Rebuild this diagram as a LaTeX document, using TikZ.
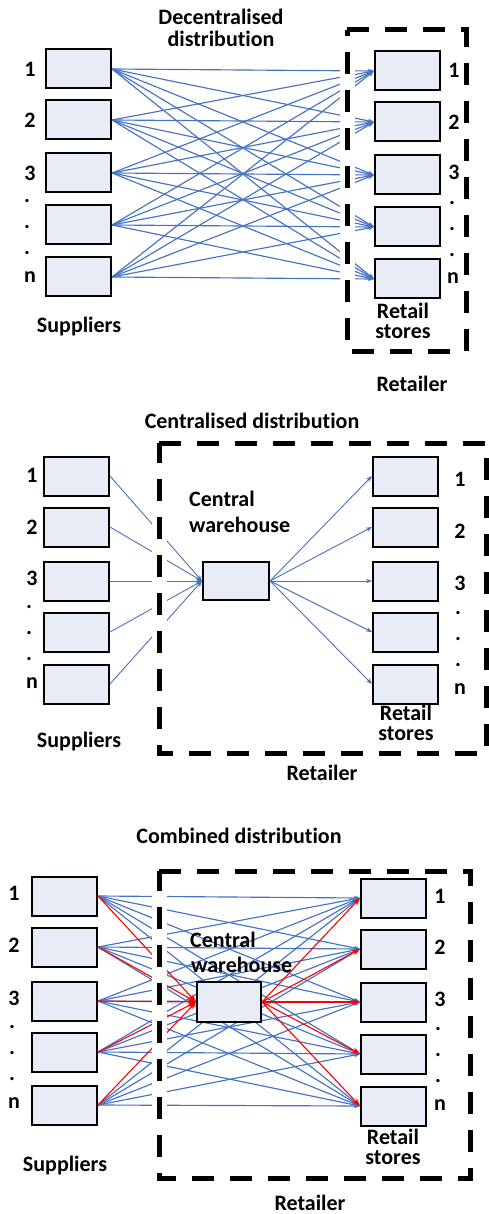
\documentclass[tikz,border=0pt]{standalone}
\usepackage{fontspec}
\setmainfont[Ligatures={NoCommon}]{Carlito}
\usetikzlibrary{arrows.meta}
\definecolor{boxfill}{HTML}{E7ECF6}
\definecolor{lblue}{HTML}{4472C4}
\begin{document}
\begin{tikzpicture}[x=1pt,y=-1pt,
 box/.style={draw=black,line width=2pt,fill=boxfill,minimum width=65pt,minimum height=39pt,inner sep=0pt},
 lbl/.style={font=\fontsize{22}{24}\selectfont\bfseries,inner sep=0pt,text depth=0pt},
 conn/.style={draw=lblue,line width=1.15pt,-{Stealth[length=6pt,width=4.5pt]}},
 thinconn/.style={conn,line width=0.9pt},
 redconn/.style={draw=red,line width=1.1pt,-{Stealth[length=8pt,width=6pt]}},
 retbox/.style={draw=black,line width=5pt,dash pattern=on 22pt off 16pt},
 band/.style={draw=white,line width=15pt}]
\useasboundingbox (0,0) rectangle (489,1214);

% ---------------- Top: decentralised ----------------
\foreach \i/\y in {1/69,2/120,3/173,4/225,5/277}{
  \node[box] (ts\i) at (78.5,\y) {};
}
\foreach \i/\y in {1/71,2/122,3/175,4/227,5/279}{
  \node[box] (tr\i) at (407.5,\y) {};
}
\foreach \i in {1,...,5}{
  \foreach \j in {1,...,5}{
    \draw[conn] (ts\i.east) -- (tr\j.west);
  }
}
\coordinate (tbA) at (347,30);
\coordinate (tbB) at (347,351);
\coordinate (tbC) at (466,30);
\coordinate (tbD) at (466,351);
\draw[band] (tbA) -- (tbB);
\draw[retbox] (tbA) -- (tbC) -- (tbD) -- (tbB) -- cycle;

\node[lbl] (tt1) at (221,17) {Decentralised};
\node[lbl] (tt2) at (221,39) {distribution};
\node[lbl] (tl1) at (30,69) {1};
\node[lbl] (tl2) at (30,120) {2};
\node[lbl] (tl3) at (30,173) {3};
\node[lbl] (td1) at (27,201) {.};
\node[lbl] (td2) at (27,227) {.};
\node[lbl] (td3) at (27,253) {.};
\node[lbl] (tln) at (30,277) {n};
\node[lbl] (trl1) at (454,70) {1};
\node[lbl] (trl2) at (454,122) {2};
\node[lbl] (trl3) at (454,172) {3};
\node[lbl] (trd1) at (452,203) {.};
\node[lbl] (trd2) at (452,229) {.};
\node[lbl] (trd3) at (452,255) {.};
\node[lbl] (trln) at (453,278) {n};
\node[lbl] (tsup) at (79,325) {Suppliers};
\node[lbl] (trs1) at (403,311) {Retail};
\node[lbl] (trs2) at (403,332) {stores};
\node[lbl] (tret) at (412,384) {Retailer};

% ---------------- Middle: centralised ----------------
\foreach \i/\y in {1/476,2/527,3/581,4/632,5/684}{
  \node[box] (ms\i) at (76.5,\y) {};
  \node[box] (mr\i) at (405.5,\y) {};
}
\node[box,minimum width=66pt,minimum height=38pt] (mw) at (236,581) {};
\foreach \i in {1,...,5}{
  \draw[thinconn] (ms\i.east) -- (mw.west);
  \draw[thinconn] (mw.east) -- (mr\i.west);
}
\coordinate (mbA) at (159,443);
\coordinate (mbB) at (159,753);
\coordinate (mbC) at (486,443);
\coordinate (mbD) at (486,753);
\draw[band] (mbA) -- (mbB);
\draw[retbox] (mbA) -- (mbC) -- (mbD) -- (mbB) -- cycle;

\node[lbl] (mt) at (252,421) {Centralised distribution};
\node[lbl,anchor=west] (mc1) at (189,499) {Central};
\node[lbl,anchor=west] (mc2) at (189,525) {warehouse};
\node[lbl] (ml1) at (32,475) {1};
\node[lbl] (ml2) at (32,527) {2};
\node[lbl] (ml3) at (32,578) {3};
\node[lbl] (md1) at (29,607) {.};
\node[lbl] (md2) at (29,633) {.};
\node[lbl] (md3) at (29,659) {.};
\node[lbl] (mln) at (32,683) {n};
\node[lbl] (mrl1) at (460,479) {1};
\node[lbl] (mrl2) at (460,531) {2};
\node[lbl] (mrl3) at (460,583) {3};
\node[lbl] (mrd1) at (458,613) {.};
\node[lbl] (mrd2) at (458,639) {.};
\node[lbl] (mrd3) at (458,665) {.};
\node[lbl] (mrln) at (460,689) {n};
\node[lbl] (msup) at (79,740) {Suppliers};
\node[lbl] (mrs1) at (406,713) {Retail};
\node[lbl] (mrs2) at (406,734) {stores};
\node[lbl] (mret) at (322,773) {Retailer};

% ---------------- Bottom: combined ----------------
\foreach \i/\y in {1/896,2/947,3/1001,4/1052,5/1105}{
  \node[box] (bs\i) at (64.5,\y) {};
}
\foreach \i/\y in {1/898,2/949,3/1002,4/1054,5/1106}{
  \node[box] (br\i) at (393.5,\y) {};
}
\node[box,minimum width=64pt,minimum height=40pt] (bw) at (229,1002) {};
\foreach \i in {1,...,5}{
  \foreach \j in {1,...,5}{
    \draw[conn] (bs\i.east) -- (br\j.west);
  }
}
\foreach \i in {1,...,5}{
  \draw[redconn] (bs\i.east) -- (bw.west);
  \draw[redconn] (bw.east) -- (br\i.west);
}
\node[box,minimum width=64pt,minimum height=40pt] (bw2) at (229,1002) {};
\coordinate (bbA) at (159,871);
\coordinate (bbB) at (159,1178);
\coordinate (bbC) at (470,871);
\coordinate (bbD) at (470,1178);
\draw[band] (bbA) -- (bbB);
\draw[retbox] (bbA) -- (bbC) -- (bbD) -- (bbB) -- cycle;

\node[lbl] (bt) at (239,836) {Combined distribution};
\node[lbl,anchor=west] (bc1) at (190,940) {Central};
\node[lbl,anchor=west] (bc2) at (191,965) {warehouse};
\node[lbl] (bl1) at (14,893) {1};
\node[lbl] (bl2) at (14,945) {2};
\node[lbl] (bl3) at (14,998) {3};
\node[lbl] (bd1) at (12,1027) {.};
\node[lbl] (bd2) at (12,1053) {.};
\node[lbl] (bd3) at (12,1079) {.};
\node[lbl] (bln) at (14,1103) {n};
\node[lbl] (brl1) at (440,896) {1};
\node[lbl] (brl2) at (440,947) {2};
\node[lbl] (brl3) at (440,999) {3};
\node[lbl] (brd1) at (438,1029) {.};
\node[lbl] (brd2) at (438,1055) {.};
\node[lbl] (brd3) at (438,1081) {.};
\node[lbl] (brln) at (440,1105) {n};
\node[lbl] (bsup) at (65,1164) {Suppliers};
\node[lbl] (brs1) at (393,1137) {Retail};
\node[lbl] (brs2) at (393,1158) {stores};
\node[lbl] (bret) at (310,1203) {Retailer};
\end{tikzpicture}
\end{document}
